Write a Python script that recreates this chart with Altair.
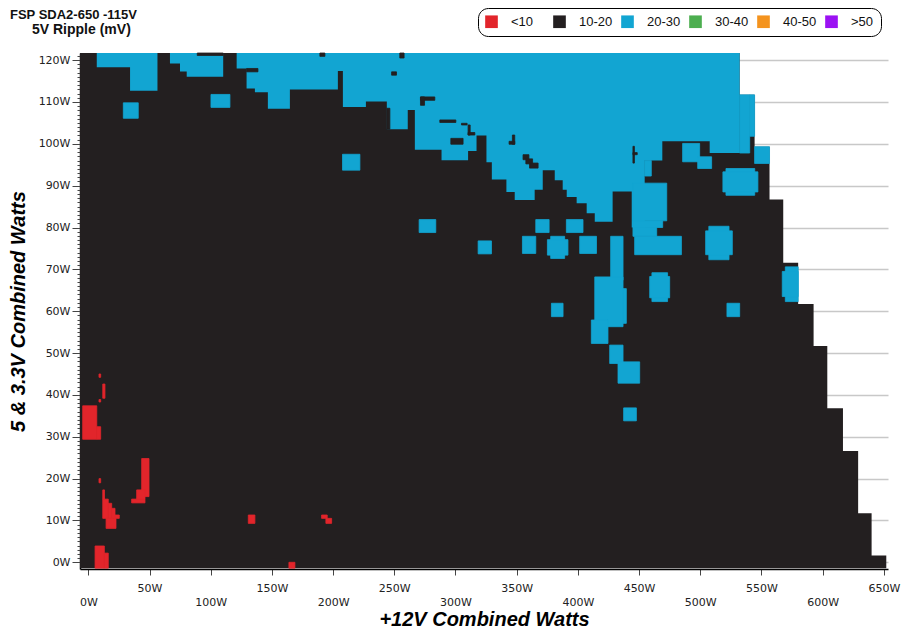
import altair as alt
import pandas as pd

TITLE_1 = "FSP SDA2-650 -115V"
TITLE_2 = "5V Ripple (mV)"
X_TITLE = "+12V Combined Watts"
Y_TITLE = "5 & 3.3V Combined Watts"

BANDS = ["<10", "10-20", "20-30", "30-40", "40-50", ">50"]
BAND_COLORS = ["#e2252b", "#231f20", "#12a5d2", "#4cae4f", "#f4931e", "#9b11f3"]

Y_TOP = 121.7
Y_BOTTOM = -1.4

# tested envelope (10-20 mV everywhere unless overridden)
env_x0 = [-6.8, 532.2, 544.4, 556.6, 567.8, 580.0, 592.6, 603.8, 616.6, 629.0, 640.0]
env_x1 = [532.2, 544.4, 556.6, 567.8, 580.0, 592.6, 603.8, 616.6, 629.0, 640.0, 652.0]
env_y1 = [121.7, 111.7, 99.3, 86.7, 71.6, 61.7, 51.7, 36.8, 26.6, 11.7, 1.6]

# 20-30 mV band reaching the top of the map (lower edge per column)
top_x0 = [6.9, 34.1, 66.7, 74.9, 80.4, 121.2, 129.3, 136.1, 146.7, 164.7, 203.9, 208.0,
          226.8, 243.9, 261.0, 266.8, 288.6, 310.3, 317.2, 325.3, 329.7, 341.6, 348.4, 364.7,
          371.3, 381.1, 387.6, 390.9, 399.0, 407.2, 413.8, 428.4, 444.0, 454.6, 469.0, 507.7]
top_x1 = [34.1, 56.5, 74.9, 80.4, 110.2, 129.3, 136.1, 146.7, 164.7, 203.9, 208.0, 226.8,
          243.9, 261.0, 266.8, 288.6, 310.3, 317.2, 325.3, 329.7, 341.6, 348.4, 364.7, 371.3,
          381.1, 387.6, 390.9, 399.0, 407.2, 413.8, 428.4, 444.0, 454.6, 469.0, 507.7, 532.2]
top_y0 = [118.3, 112.7, 119.2, 117.3, 116.0, 118.0, 113.2, 112.3, 108.4, 113.0, 117.4, 108.8,
          110.1, 103.5, 108.1, 98.6, 96.1, 98.3, 102.0, 95.6, 91.5, 88.5, 86.6, 89.0,
          93.7, 91.3, 89.0, 87.3, 85.8, 83.4, 81.4, 88.6, 80.0, 96.0, 100.6, 97.8]

# other 20-30 mV areas
cyan_x0 = [532.2, 540.4, 544.4, 454.6, 445.0, 445.0, 445.0, 446.4, 28.6, 100.2, 207.7, 270.3,
           318.5, 365.6, 390.6, 354.7, 377.8, 375.1, 401.5, 426.8, 413.8, 436.9, 411.0, 426.0,
           432.8, 437.4, 507.0, 504.4, 521.0, 518.5, 569.5, 567.0, 460.5, 458.7, 378.4, 521.8,
           485.6, 497.9]
cyan_x1 = [540.4, 544.4, 556.6, 460.0, 472.6, 469.3, 464.4, 484.6, 40.8, 115.7, 221.9, 283.9,
           329.4, 376.5, 404.2, 365.6, 389.2, 391.9, 415.2, 436.9, 436.9, 439.6, 424.6, 436.9,
           450.5, 447.8, 523.5, 526.2, 544.5, 547.1, 580.0, 580.0, 473.3, 475.0, 387.9, 532.2,
           499.5, 509.3]
cyan_y0 = [97.8, 101.8, 95.3, 92.3, 81.6, 80.0, 77.9, 73.5, 106.1, 108.7, 93.7, 78.8,
           73.7, 78.8, 78.8, 73.8, 72.6, 73.4, 73.8, 67.4, 56.3, 57.1, 52.3, 47.5,
           42.8, 33.8, 72.3, 73.5, 87.7, 88.5, 62.3, 63.5, 62.3, 63.2, 58.7, 58.7,
           95.7, 94.1]
cyan_y1 = [111.7, 111.7, 99.3, 96.0, 90.6, 81.6, 80.0, 77.9, 109.8, 111.8, 97.5, 81.9,
           76.8, 81.9, 81.9, 77.9, 77.9, 77.1, 77.9, 77.9, 68.2, 65.4, 57.9, 51.9,
           47.9, 36.9, 80.3, 79.2, 94.1, 93.3, 70.6, 69.5, 69.2, 68.3, 61.9, 61.9,
           100.1, 96.9]

# small 10-20 mV specks inside the 20-30 mV band
spot_x0 = [89.0, 254.5, 189.2, 247.8, 129.3, 271.4, 271.4, 287.2, 304.9, 310.3, 310.3, 296.2,
           343.8, 346.5, 355.2, 357.5, 360.5, 445.0, 445.0, 243.9]
spot_x1 = [110.2, 258.0, 193.3, 251.8, 138.6, 283.1, 274.7, 300.3, 309.5, 312.0, 315.8, 306.2,
           348.4, 348.4, 360.0, 363.0, 367.5, 446.2, 448.5, 246.4]
spot_y0 = [121.1, 120.5, 120.9, 116.4, 117.2, 110.4, 109.2, 105.1, 104.5, 102.1, 102.1, 99.9,
           99.9, 99.9, 96.2, 95.2, 94.2, 95.4, 97.4, 103.5]
spot_y1 = [121.7, 121.7, 121.7, 117.2, 118.0, 111.2, 111.2, 105.7, 104.9, 104.5, 102.7, 101.3,
           100.6, 102.1, 97.4, 96.4, 95.4, 99.4, 97.9, 108.5]

# below 10 mV areas
red_x0 = [-4.6, 6.9, 11.8, 8.7, 8.7, 8.7, 11.8, 11.8, 16.3, 19.1, 21.8, 14.5, 43.6, 39.5,
          35.4, 5.5, 13.1, 130.7, 190.6, 194.1, 163.9]
red_x1 = [6.9, 10.1, 13.6, 10.1, 10.1, 10.1, 13.2, 16.3, 19.1, 21.8, 25.3, 22.6, 49.6, 46.3,
          46.3, 13.1, 16.3, 136.1, 195.2, 198.8, 168.8]
red_y0 = [29.4, 29.4, 39.2, 44.2, 38.3, 19.0, 15.1, 10.5, 10.5, 10.5, 10.5, 8.1, 15.7, 15.1,
          14.2, -1.4, -1.4, 9.3, 10.5, 9.3, -1.4]
red_y1 = [37.4, 32.4, 42.6, 45.0, 38.9, 20.0, 17.3, 15.1, 14.1, 12.9, 11.3, 10.5, 24.8, 17.3,
          15.1, 3.9, 2.2, 11.3, 11.3, 10.5, 0.0]

X_LABEL_TICKS = [i * 12.5 for i in range(53)]
Y_LABEL_TICKS = list(range(0, 121, 5))
Y_MINOR_TICKS = list(range(0, 122))


def step_profile(x0s, x1s, ys):
    """Turn contiguous columns into step-after profile points, split into segments."""
    pts = []
    seg = 0
    for i, (a, b, y) in enumerate(zip(x0s, x1s, ys)):
        if i > 0 and abs(x1s[i - 1] - a) > 1e-9:
            pts.append({"x": x1s[i - 1], "y": ys[i - 1], "seg": seg})
            seg += 1
        pts.append({"x": a, "y": y, "seg": seg})
    pts.append({"x": x1s[-1], "y": ys[-1], "seg": seg})
    return pd.DataFrame(pts)


env_df = step_profile(env_x0, env_x1, env_y1)
env_df["base"] = Y_BOTTOM
band_df = step_profile(top_x0, top_x1, top_y0)
band_df["top"] = Y_TOP

rows = []


def add(x0s, x1s, y0s, y1s, band):
    for a, b, c, d in zip(x0s, x1s, y0s, y1s):
        rows.append({"x0": a, "x1": b, "y0": c, "y1": d, "band": band})


add(cyan_x0, cyan_x1, cyan_y0, cyan_y1, "20-30")
add(spot_x0, spot_x1, spot_y0, spot_y1, "10-20")
add(red_x0, red_x1, red_y0, red_y1, "<10")
df = pd.DataFrame(rows)
df["order"] = range(len(df))

xs = alt.Scale(domain=[-6.8, 653.4], nice=False, zero=False)
ys = alt.Scale(domain=[-1.6, 121.7], nice=False, zero=False)
cscale = alt.Scale(domain=BANDS, range=BAND_COLORS)

LABEL_FONT = "DejaVu Sans"
TITLE_FONT = "Liberation Sans"

x_axis = alt.Axis(
    orient="bottom", values=X_LABEL_TICKS,
    labelExpr="datum.value % 100 == 0 ? ['', datum.value + 'W'] : (datum.value % 50 == 0 ? datum.value + 'W' : '')",
    labelOverlap=False, labelFlush=False, labelFont=LABEL_FONT, labelFontSize=11,
    labelColor="#222", labelPadding=7, labelLineHeight=14, labelBaseline="top",
    tickSize=6, tickColor="#444", tickWidth=1,
    domain=True, domainColor="#000", domainWidth=1.5, grid=False,
    title=X_TITLE, titleFont=TITLE_FONT, titleFontSize=20, titleFontStyle="italic",
    titleFontWeight="bold", titleColor="#000", titleY=56, titleBaseline="alphabetic")

y_axis = alt.Axis(
    orient="left", values=Y_LABEL_TICKS, labelExpr="datum.value + 'W'",
    labelOverlap=False, labelFlush=False, labelFont=LABEL_FONT, labelFontSize=11,
    labelColor="#222", labelPadding=2, tickSize=8, tickColor="#444", tickWidth=1,
    domain=True, domainColor="#000", domainWidth=1.5,
    grid=True, gridColor="#c8c8c8", gridWidth=1.5,
    title=Y_TITLE, titleFont=TITLE_FONT, titleFontSize=20, titleFontStyle="italic",
    titleFontWeight="bold", titleColor="#000", titleAngle=270, titleX=-56, titleY=258,
    titleBaseline="alphabetic")

envelope = alt.Chart(env_df).mark_area(interpolate="step-after", color=BAND_COLORS[1]).encode(
    x=alt.X("x:Q", scale=xs, axis=x_axis),
    y=alt.Y("y:Q", scale=ys, axis=y_axis),
    y2=alt.Y2("base"),
    detail="seg:N",
)

band = alt.Chart(band_df).mark_area(interpolate="step-after", color=BAND_COLORS[2]).encode(
    x=alt.X("x:Q", scale=xs),
    y=alt.Y("y:Q", scale=ys),
    y2=alt.Y2("top"),
    detail="seg:N",
)

heat = alt.Chart(df).mark_rect(strokeWidth=0.8).encode(
    x=alt.X("x0:Q", scale=xs),
    x2=alt.X2("x1"),
    y=alt.Y("y0:Q", scale=ys),
    y2=alt.Y2("y1"),
    color=alt.Color("band:N", scale=cscale, legend=alt.Legend(
        title=None, orient="none", legendX=398, legendY=-45, direction="horizontal",
        columns=6, symbolType="square", symbolSize=160, symbolStrokeWidth=0,
        labelFont=TITLE_FONT, labelFontSize=13, labelColor="#111", labelOffset=13,
        columnPadding=8, padding=7, strokeColor="#000", cornerRadius=10,
        fillColor="#ffffff", gridAlign="all", labelLimit=80)),
    stroke=alt.Stroke("band:N", scale=cscale, legend=None),
    order=alt.Order("order:Q"),
)

main = alt.layer(envelope, band, heat)

minor = alt.Chart(pd.DataFrame({"w": Y_MINOR_TICKS})).mark_point(opacity=0).encode(
    y=alt.Y("w:Q", scale=ys, axis=alt.Axis(
        orient="left", values=Y_MINOR_TICKS, labels=False, tickSize=3, tickColor="#444",
        tickWidth=1, domain=False, grid=False, title=None)),
)

t1 = alt.Chart(pd.DataFrame({"t": [TITLE_1]})).mark_text(
    align="left", baseline="alphabetic", font=TITLE_FONT, fontWeight="bold",
    fontSize=13, color="#111").encode(text="t:N", x=alt.value(-70), y=alt.value(-34))
t2 = alt.Chart(pd.DataFrame({"t": [TITLE_2]})).mark_text(
    align="left", baseline="alphabetic", font=TITLE_FONT, fontWeight="bold",
    fontSize=14, color="#111").encode(text="t:N", x=alt.value(-48), y=alt.value(-19))

chart = alt.layer(main, minor, t1, t2).resolve_axis(y="independent").properties(
    width=808, height=516,
    padding={"left": 72, "top": 45, "right": 20, "bottom": 60},
    autosize=alt.AutoSizeParams(type="none"),
    background="white",
).configure_view(stroke=None)

chart.save("out.html", embed_options={"renderer": "svg", "actions": False})
